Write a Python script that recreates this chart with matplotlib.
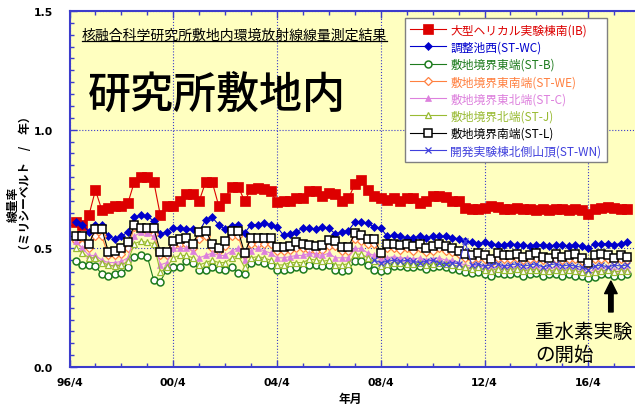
import numpy as np
import matplotlib
matplotlib.use("Agg")
import matplotlib.pyplot as plt
from matplotlib.ticker import FixedLocator, MultipleLocator, FormatStrFormatter
from matplotlib.lines import Line2D

plt.rcParams['font.family'] = ['Noto Sans CJK JP', 'DejaVu Sans']

# quarterly readings, first one 1996.5
ib = [0.61, 0.60, 0.64, 0.745, 0.66, 0.67, 0.68, 0.68, 0.69, 0.78, 0.80, 0.80, 0.78, 0.64, 0.68, 0.68, 0.70,
      0.73, 0.73, 0.70, 0.78, 0.78, 0.68, 0.71, 0.76, 0.76, 0.70, 0.75, 0.755, 0.75, 0.74, 0.695, 0.70, 0.70,
      0.71, 0.71, 0.74, 0.74, 0.72, 0.735, 0.73, 0.70, 0.71, 0.77, 0.79, 0.745, 0.72, 0.71, 0.705, 0.71, 0.70, 0.71,
      0.71, 0.69, 0.70, 0.72, 0.72, 0.715, 0.70, 0.70, 0.67, 0.665, 0.665, 0.67, 0.68, 0.675, 0.665, 0.665, 0.67,
      0.665, 0.665, 0.66, 0.665, 0.66, 0.665, 0.665, 0.66, 0.665, 0.66, 0.645, 0.665, 0.67, 0.675, 0.67, 0.665, 0.665]
st_wc = [0.61, 0.60, 0.57, 0.60, 0.60, 0.55, 0.54, 0.55, 0.57, 0.63, 0.64, 0.635, 0.615, 0.56, 0.57, 0.585, 0.585,
         0.58, 0.58, 0.57, 0.62, 0.63, 0.60, 0.58, 0.595, 0.60, 0.565, 0.60, 0.60, 0.605, 0.60, 0.59, 0.555, 0.56,
         0.57, 0.585, 0.585, 0.58, 0.59, 0.585, 0.56, 0.57, 0.575, 0.61, 0.61, 0.605, 0.59, 0.585, 0.55, 0.555, 0.55, 0.545,
         0.545, 0.55, 0.545, 0.55, 0.55, 0.55, 0.545, 0.54, 0.53, 0.525, 0.52, 0.525, 0.52, 0.515, 0.515, 0.52, 0.515,
         0.515, 0.51, 0.515, 0.515, 0.51, 0.515, 0.515, 0.51, 0.515, 0.51, 0.50, 0.52, 0.52, 0.52, 0.515, 0.52, 0.525]
st_b = [0.445, 0.43, 0.43, 0.425, 0.39, 0.385, 0.39, 0.395, 0.42, 0.465, 0.47, 0.465, 0.365, 0.36, 0.41, 0.42, 0.42,
        0.445, 0.44, 0.41, 0.41, 0.42, 0.415, 0.41, 0.42, 0.395, 0.39, 0.44, 0.445, 0.44, 0.43, 0.41, 0.41, 0.415,
        0.42, 0.415, 0.43, 0.43, 0.425, 0.43, 0.41, 0.405, 0.41, 0.445, 0.445, 0.43, 0.41, 0.405, 0.41, 0.425, 0.425, 0.42,
        0.42, 0.425, 0.415, 0.42, 0.425, 0.42, 0.415, 0.41, 0.40, 0.395, 0.40, 0.39, 0.385, 0.395, 0.39, 0.39, 0.395,
        0.385, 0.39, 0.395, 0.385, 0.39, 0.39, 0.385, 0.39, 0.385, 0.385, 0.375, 0.38, 0.39, 0.39, 0.385, 0.385, 0.39]
st_we = [0.53, 0.52, 0.50, 0.55, 0.55, 0.47, 0.47, 0.475, 0.50, 0.59, 0.58, 0.575, 0.56, 0.47, 0.47, 0.51, 0.52,
         0.52, 0.50, 0.54, 0.55, 0.50, 0.49, 0.51, 0.55, 0.55, 0.47, 0.52, 0.52, 0.52, 0.52, 0.49, 0.49, 0.495,
         0.50, 0.50, 0.495, 0.49, 0.495, 0.51, 0.51, 0.49, 0.49, 0.54, 0.53, 0.52, 0.52, 0.47, 0.50, 0.50, 0.495, 0.50,
         0.49, 0.50, 0.485, 0.49, 0.50, 0.49, 0.485, 0.475, 0.46, 0.455, 0.46, 0.455, 0.44, 0.46, 0.455, 0.455, 0.46,
         0.45, 0.455, 0.46, 0.45, 0.445, 0.455, 0.45, 0.455, 0.455, 0.445, 0.43, 0.455, 0.455, 0.455, 0.445, 0.455, 0.45]
st_c = [0.53, 0.50, 0.47, 0.47, 0.45, 0.44, 0.44, 0.445, 0.46, 0.55, 0.57, 0.565, 0.55, 0.43, 0.44, 0.50, 0.50,
        0.50, 0.49, 0.46, 0.47, 0.48, 0.47, 0.47, 0.49, 0.50, 0.45, 0.49, 0.50, 0.49, 0.48, 0.46, 0.46, 0.465,
        0.47, 0.47, 0.48, 0.475, 0.47, 0.48, 0.46, 0.46, 0.46, 0.50, 0.50, 0.48, 0.47, 0.45, 0.46, 0.465, 0.46, 0.46,
        0.455, 0.46, 0.45, 0.455, 0.46, 0.45, 0.45, 0.44, 0.43, 0.425, 0.43, 0.42, 0.415, 0.425, 0.42, 0.42, 0.425,
        0.415, 0.42, 0.42, 0.415, 0.415, 0.42, 0.415, 0.42, 0.415, 0.41, 0.40, 0.41, 0.415, 0.42, 0.41, 0.415, 0.415]
st_j = [0.50, 0.48, 0.46, 0.46, 0.44, 0.43, 0.425, 0.43, 0.445, 0.52, 0.53, 0.525, 0.52, 0.40, 0.42, 0.46, 0.47,
        0.47, 0.46, 0.43, 0.44, 0.45, 0.44, 0.44, 0.46, 0.47, 0.42, 0.46, 0.465, 0.46, 0.45, 0.43, 0.43, 0.44,
        0.44, 0.44, 0.455, 0.45, 0.445, 0.45, 0.43, 0.43, 0.435, 0.475, 0.475, 0.46, 0.445, 0.425, 0.435, 0.44, 0.44, 0.435,
        0.435, 0.44, 0.43, 0.435, 0.44, 0.435, 0.43, 0.425, 0.42, 0.415, 0.42, 0.41, 0.405, 0.415, 0.41, 0.41, 0.415,
        0.405, 0.41, 0.41, 0.405, 0.405, 0.41, 0.405, 0.41, 0.405, 0.40, 0.395, 0.40, 0.405, 0.41, 0.40, 0.405, 0.405]
st_l = [0.55, 0.55, 0.52, 0.58, 0.58, 0.485, 0.49, 0.50, 0.525, 0.60, 0.585, 0.585, 0.585, 0.485, 0.485, 0.53, 0.54,
        0.545, 0.52, 0.57, 0.575, 0.52, 0.50, 0.53, 0.575, 0.575, 0.48, 0.545, 0.545, 0.545, 0.545, 0.505, 0.505, 0.51,
        0.525, 0.52, 0.515, 0.51, 0.515, 0.535, 0.53, 0.505, 0.505, 0.565, 0.555, 0.54, 0.54, 0.48, 0.52, 0.52, 0.515, 0.52,
        0.51, 0.52, 0.50, 0.51, 0.52, 0.51, 0.50, 0.49, 0.475, 0.47, 0.48, 0.47, 0.455, 0.48, 0.47, 0.47, 0.475,
        0.465, 0.47, 0.48, 0.465, 0.46, 0.475, 0.465, 0.47, 0.475, 0.46, 0.44, 0.47, 0.475, 0.47, 0.46, 0.47, 0.465]
# ST-WN starts 2008.0
st_wn = [0.45, 0.44, 0.445, 0.45, 0.445, 0.45, 0.445, 0.44, 0.445, 0.45, 0.44, 0.435, 0.44, 0.435, 0.53, 0.43,
         0.435, 0.425, 0.43, 0.435, 0.425, 0.43, 0.435, 0.425, 0.43, 0.435, 0.42, 0.43, 0.435, 0.425, 0.43, 0.425,
         0.42, 0.41, 0.425, 0.43, 0.42, 0.43, 0.425, 0.43]

labels = ['大型ヘリカル実験棟南(IB)', '調整池西(ST-WC)', '敷地境界東端(ST-B)', '敷地境界東南端(ST-WE)',
          '敷地境界東北端(ST-C)', '敷地境界北端(ST-J)', '敷地境界南端(ST-L)', '開発実験棟北側山頂(ST-WN)']
tick_pos = [1996.25, 2000.25, 2004.25, 2008.25, 2012.25, 2016.25]
tick_lab = ['96/4', '00/4', '04/4', '08/4', '12/4', '16/4']

t = 1996.5 + 0.25 * np.arange(len(ib))
t_wn = t[len(ib) - len(st_wn):]

fig = plt.figure(figsize=(6.35, 4.14), dpi=100)
ax = fig.add_axes([69.5 / 635, 46 / 414, 570.7 / 635, 356 / 414])
ax.set_facecolor('#ffffc0')

styles = [
    dict(color='#dd0000', marker='s', ms=7, mfc='#dd0000', mew=0.5),
    dict(color='#0000cc', marker='D', ms=4.5, mfc='#0000cc', mew=0.5),
    dict(color='#1e7b1e', marker='o', ms=5, mfc='white', mew=1.1),
    dict(color='#ff8040', marker='D', ms=4, mfc='white', mew=0.9),
    dict(color='#dd80dd', marker='^', ms=5, mfc='#dd80dd', mew=0.5),
    dict(color='#99bb33', marker='^', ms=5, mfc='white', mew=0.9),
    dict(color='black', marker='s', ms=6, mfc='white', mew=1.1),
    dict(color='#4040dd', marker='x', ms=5, mew=0.9),
]
series = [(t, ib), (t, st_wc), (t, st_b), (t, st_we), (t, st_c), (t, st_j), (t, st_l), (t_wn, st_wn)]
for (x, y), st, lab in zip(series, styles, labels):
    ax.plot(x, y, lw=0.8, label=lab, **st)

ax.set_xlim(1996.25, 2018.25)
ax.set_ylim(0, 1.5)
ax.xaxis.set_major_locator(FixedLocator(tick_pos))
ax.set_xticklabels(tick_lab)
ax.xaxis.set_minor_locator(MultipleLocator(1, offset=0.25))
ax.yaxis.set_major_locator(MultipleLocator(0.5))
ax.yaxis.set_minor_locator(MultipleLocator(0.05))
ax.yaxis.set_major_formatter(FormatStrFormatter('%.1f'))

spine_c = '#3c3ccc'
for s in ['left', 'bottom', 'top']:
    ax.spines[s].set_color(spine_c)
    ax.spines[s].set_linewidth(1.5)
ax.spines['right'].set_visible(False)
ax.tick_params(which='both', direction='in', color=spine_c, top=True, right=False)
ax.tick_params(which='major', length=5, width=1)
ax.tick_params(which='minor', length=3, width=1)
ax.tick_params(axis='x', pad=7)
ax.tick_params(axis='y', pad=12)
for lb in ax.get_xticklabels() + ax.get_yticklabels():
    lb.set_fontfamily('DejaVu Sans')
    lb.set_fontweight('bold')
    lb.set_fontsize(7.8)
ax.grid(which='major', color='#3c3ccc', linestyle=':', linewidth=0.8)

fig.text(350 / 635, 1 - 399 / 414, '年月', ha='center', va='center', fontsize=8.5, fontweight='bold')
fig.text(13 / 635, 1 - 204 / 414, '線量率', rotation=90, ha='center', va='center', fontsize=8.5, fontweight='bold')
fig.text(26 / 635, 1 - 183 / 414, '（ミリシーベルト　/　年）', rotation=90, ha='center', va='center',
         fontsize=8.5, fontweight='bold')

title = fig.text(82 / 635, 1 - 36 / 414, '核融合科学研究所敷地内環境放射線線量測定結果',
                 ha='left', va='center', fontsize=10)
fig.canvas.draw()
bb = title.get_window_extent(fig.canvas.get_renderer()).transformed(fig.transFigure.inverted())
fig.add_artist(Line2D([bb.x0, bb.x1], [bb.y0 + 0.002, bb.y0 + 0.002], color='black', lw=0.9,
                      transform=fig.transFigure))

fig.text(88 / 635, 1 - 95 / 414, '研究所敷地内', ha='left', va='center', fontsize=31, fontweight='medium')

leg = ax.legend(loc='upper left', bbox_to_anchor=(405 / 635, 1 - 19 / 414), bbox_transform=fig.transFigure,
                fontsize=8.5, frameon=True, fancybox=False, framealpha=1, edgecolor='#808080',
                handlelength=3.0, handletextpad=0.4, labelspacing=0.36, borderpad=0.45,
                borderaxespad=0, labelcolor='linecolor')
leg.get_frame().set_linewidth(1.0)

ax.annotate('', xy=(2017.12, 0.362), xytext=(2017.12, 0.232),
            arrowprops=dict(facecolor='black', edgecolor='black', width=3.2, headwidth=9, headlength=9, shrink=0))
fig.text(535 / 635, 1 - 344 / 414, '重水素実験\nの開始', ha='left', va='center', fontsize=14, linespacing=1.1)

fig.savefig('out.png', dpi=100, facecolor='white')
